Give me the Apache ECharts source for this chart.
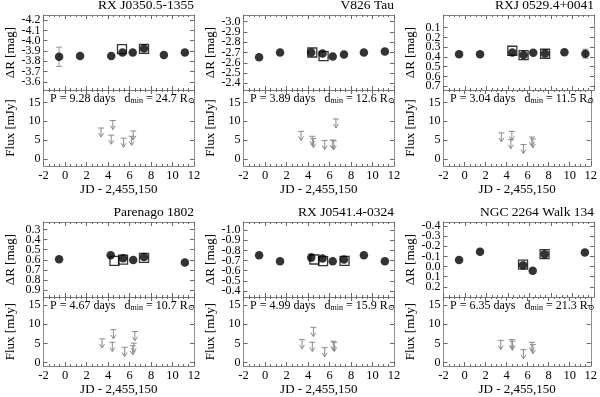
<!DOCTYPE html>
<html>
<head>
<meta charset="utf-8">
<script src="https://cdn.jsdelivr.net/npm/echarts@6.0.0/dist/echarts.min.js"></script>
<style>
  html, body { margin: 0; padding: 0; background: #fff; }
  #chart { width: 600px; height: 397px; }
</style>
</head>
<body>
<div id="chart"></div>
<script>
// star names, periods and minimum separations
const names = ['RX J0350.5-1355', 'V826 Tau', 'RXJ 0529.4+0041', 'Parenago 1802', 'RX J0541.4-0324', 'NGC 2264 Walk 134'];
const periods = ['9.28', '3.89', '3.04', '4.67', '4.99', '6.35'];
const dmins = ['24.7', '12.6', '11.5', '10.7', '15.9', '21.3'];

// delta R axis: range and tick labels per panel
const magMin = [-4.25, -3.065, -0.03, 0.227, -1.08, -0.44];
const magMax = [-3.52, -2.335, 0.74, 0.966, -0.34, 0.30];
const magTicks = [
  [-4.2, -4.1, -4.0, -3.9, -3.8, -3.7, -3.6],
  [-3.0, -2.9, -2.8, -2.7, -2.6, -2.5, -2.4],
  [0.1, 0.2, 0.3, 0.4, 0.5, 0.6, 0.7],
  [0.3, 0.4, 0.5, 0.6, 0.7, 0.8, 0.9],
  [-1.0, -0.9, -0.8, -0.7, -0.6, -0.5, -0.4],
  [-0.4, -0.3, -0.2, -0.1, 0.0, 0.1, 0.2]
];
const fluxTicks = [0, 5, 10, 15];
const fluxMin = [-1.9, -0.9];
const fluxMax = [18.3, 17.1];

// optical photometry: filled circles [JD, dR]
const circles = [
  [[-0.55, -3.843], [1.4, -3.85], [4.3, -3.85], [5.35, -3.885], [6.3, -3.885], [7.35, -3.924], [9.2, -3.86], [11.15, -3.885]],
  [[-0.55, -2.653], [1.4, -2.70], [4.3, -2.70], [5.35, -2.69], [6.3, -2.66], [7.35, -2.68], [9.2, -2.70], [11.15, -2.71]],
  [[-0.55, 0.374], [1.4, 0.372], [4.4, 0.354], [5.45, 0.38], [6.35, 0.357], [7.45, 0.366], [9.25, 0.353], [11.2, 0.367]],
  [[-0.55, 0.595], [4.25, 0.554], [5.4, 0.585], [6.35, 0.601], [7.35, 0.571], [11.15, 0.625]],
  [[-0.55, -0.753], [1.4, -0.693], [4.3, -0.73], [5.35, -0.72], [6.3, -0.693], [7.35, -0.71], [9.2, -0.753], [11.15, -0.693]],
  [[-0.55, -0.064], [1.4, -0.146], [5.4, -0.014], [6.3, 0.042], [7.4, -0.123], [11.15, -0.14]]
];
// second data set: open squares [JD, dR]
const squares = [
  [[5.3, -3.918], [7.35, -3.92]],
  [[4.4, -2.70], [5.45, -2.665]],
  [[4.4, 0.337], [5.45, 0.381], [7.45, 0.368]],
  [[4.6, 0.61], [5.4, 0.597], [7.35, 0.58]],
  [[4.6, -0.71], [5.4, -0.693], [7.4, -0.697]],
  [[5.4, -0.02], [7.4, -0.123]]
];
// visible error bars [JD, dR, err]
const errBars = [
  [[-0.55, -3.843, 0.094]],
  [],
  [[11.2, 0.367, 0.046]],
  [],
  [[4.3, -0.73, 0.035]],
  []
];
// radio upper limits [JD, flux mJy]
const limits = [
  [[3.35, 8.2], [4.3, 6.3], [4.45, 10.2], [5.45, 5.5], [6.2, 6.0], [6.35, 7.4]],
  [[3.35, 7.3], [4.4, 6.0], [4.5, 5.4], [5.55, 4.9], [6.3, 5.0], [6.4, 4.8], [6.6, 10.6]],
  [[3.5, 6.9], [4.4, 5.1], [4.5, 7.3], [5.6, 3.8], [6.4, 5.8], [6.5, 5.3]],
  [[3.45, 6.2], [4.4, 5.3], [4.5, 8.6], [5.55, 4.0], [6.3, 4.4], [6.4, 5.1], [6.5, 8.1]],
  [[3.45, 6.0], [4.4, 5.3], [4.5, 9.2], [5.55, 3.9], [6.35, 5.6], [6.45, 5.3]],
  [[3.45, 5.8], [4.5, 6.0], [4.55, 5.6], [5.6, 3.4], [6.4, 5.3], [6.5, 4.7]]
];

const FONT = '"Liberation Serif", "DejaVu Serif", serif';
const chart = echarts.init(document.getElementById('chart'));

const frameLine = { show: true, onZero: false, lineStyle: { color: '#777', width: 1, type: [1, 1] } };
const tickStyle = { color: '#666', width: 1 };
const ARROW = 2.4;

function xAxis(g, pos, withLabels) {
  return {
    type: 'value', gridIndex: g, position: pos, min: -2, max: 12, interval: 2,
    axisLine: frameLine,
    axisTick: { show: true, inside: true, length: 4, lineStyle: tickStyle },
    minorTick: { show: true, splitNumber: 4, length: 2, lineStyle: tickStyle },
    splitLine: { show: false },
    axisLabel: { show: withLabels, margin: 3, color: '#000', fontFamily: FONT, fontSize: 12.5 },
    name: withLabels ? 'JD - 2,455,150' : '',
    nameLocation: 'middle', nameGap: 13,
    nameTextStyle: { color: '#000', fontFamily: FONT, fontSize: 13 }
  };
}

// one y axis; 'ticks' are the values it marks, labels only if withLabels
function yAxis(g, pos, opts, ticks, withLabels, withLine, name) {
  return {
    type: 'value', gridIndex: g, position: pos, offset: 0, min: opts.min, max: opts.max,
    inverse: !!opts.inverse,
    axisLine: withLine ? frameLine : { show: false, onZero: false },
    axisTick: { show: true, inside: true, length: 4, lineStyle: tickStyle, customValues: ticks },
    splitLine: { show: false },
    axisLabel: {
      show: withLabels, margin: 3, color: '#000', fontFamily: FONT, fontSize: 12,
      interval: 0, hideOverlap: false,
      customValues: ticks, formatter: opts.fmt
    },
    name: name || '',
    nameLocation: 'middle', nameGap: 26, nameRotate: 90,
    nameTextStyle: { color: '#000', fontFamily: FONT, fontSize: 13 }
  };
}

function errorItem(params, api) {
  const x = api.value(0), v = api.value(1), e = api.value(2);
  const a = api.coord([x, v - e]), b = api.coord([x, v + e]);
  const st = { stroke: '#999', lineWidth: 1 };
  return {
    type: 'group', children: [
      { type: 'line', shape: { x1: a[0], y1: a[1], x2: b[0], y2: b[1] }, style: st },
      { type: 'line', shape: { x1: a[0] - 3, y1: a[1], x2: a[0] + 3, y2: a[1] }, style: st },
      { type: 'line', shape: { x1: b[0] - 3, y1: b[1], x2: b[0] + 3, y2: b[1] }, style: st }
    ]
  };
}

function arrowItem(params, api) {
  const x = api.value(0), f = api.value(1);
  const t = api.coord([x, f]), b = api.coord([x, f - ARROW]);
  const st = { stroke: '#8a8a8a', lineWidth: 1, fill: null };
  return {
    type: 'group', children: [
      { type: 'line', shape: { x1: t[0] - 3, y1: t[1], x2: t[0] + 3, y2: t[1] }, style: st },
      { type: 'line', shape: { x1: t[0], y1: t[1], x2: b[0], y2: b[1] }, style: st },
      { type: 'polyline', shape: { points: [[b[0] - 2.5, b[1] - 4], [b[0], b[1]], [b[0] + 2.5, b[1] - 4]] }, style: st }
    ]
  };
}

const grids = [], xAxes = [], yAxes = [], series = [], titles = [];

for (let p = 0; p < 6; p++) {
  const col = p % 3, row = Math.floor(p / 3);
  const left = col * 200 + 43.5, width = 150.5;
  const upTop = row ? 222 : 15, upH = 75;
  const loTop = upTop + upH, loH = row ? 70 : 76;

  const gU = grids.length;
  grids.push({ left: left, top: upTop, width: width, height: upH });
  const gL = grids.length;
  grids.push({ left: left, top: loTop, width: width, height: loH });

  const xU = xAxes.length;
  xAxes.push(xAxis(gU, 'bottom', false), xAxis(gU, 'top', false));
  const xL = xAxes.length;
  xAxes.push(xAxis(gL, 'bottom', true), xAxis(gL, 'top', false));

  const magOpts = { min: magMin[p], max: magMax[p], inverse: true, fmt: v => v.toFixed(1) };
  const fluxOpts = { min: fluxMin[row], max: fluxMax[row], fmt: v => String(v) };
  // alternate mag labels go on two stacked axes so none is dropped
  const even = magTicks[p].filter((v, i) => i % 2 === 0);
  const odd = magTicks[p].filter((v, i) => i % 2 === 1);

  const yU = yAxes.length;
  yAxes.push(
    yAxis(gU, 'left', magOpts, even, true, true, 'ΔR [mag]'),
    yAxis(gU, 'left', magOpts, odd, true, false),
    yAxis(gU, 'right', magOpts, magTicks[p], false, true)
  );
  const yL = yAxes.length;
  yAxes.push(
    yAxis(gL, 'left', fluxOpts, fluxTicks, true, true, 'Flux [mJy]'),
    yAxis(gL, 'right', fluxOpts, fluxTicks, false, true)
  );

  series.push({
    type: 'custom', xAxisIndex: xU, yAxisIndex: yU, renderItem: errorItem,
    data: errBars[p], encode: { x: 0, y: 1 }, z: 1, silent: true
  });
  series.push({
    type: 'scatter', xAxisIndex: xU, yAxisIndex: yU, data: squares[p],
    symbol: 'rect', symbolSize: 9, z: 2,
    itemStyle: { color: 'rgba(255,255,255,0)', borderColor: '#000', borderWidth: 1.3 }
  });
  series.push({
    type: 'scatter', xAxisIndex: xU, yAxisIndex: yU, data: circles[p],
    symbol: 'circle', symbolSize: 8.5, z: 3, itemStyle: { color: '#000' }
  });
  series.push({
    type: 'custom', xAxisIndex: xL, yAxisIndex: yL, renderItem: arrowItem,
    data: limits[p], encode: { x: 0, y: 1 }, silent: true
  });

  titles.push({
    text: names[p], right: 600 - (left + width), top: upTop - 17, padding: 0,
    textStyle: { color: '#000', fontFamily: FONT, fontSize: 13.5, fontWeight: 'normal' }
  });
  titles.push({
    text: '{a|P = ' + periods[p] + ' days   d}{s|min}{a| = ' + dmins[p] + ' R}{s|⊙}',
    left: left + 6.5, top: loTop + 1, padding: 0,
    textStyle: {
      fontWeight: 'normal',
      rich: {
        a: { color: '#000', fontFamily: FONT, fontSize: 12, fontWeight: 'normal', lineHeight: 14, verticalAlign: 'bottom' },
        s: { color: '#000', fontFamily: FONT, fontSize: 8, fontWeight: 'normal', lineHeight: 8, verticalAlign: 'bottom' }
      }
    }
  });
}

chart.setOption({
  animation: false,
  backgroundColor: '#fff',
  title: titles,
  grid: grids,
  xAxis: xAxes,
  yAxis: yAxes,
  series: series
});
</script>
</body>
</html>
